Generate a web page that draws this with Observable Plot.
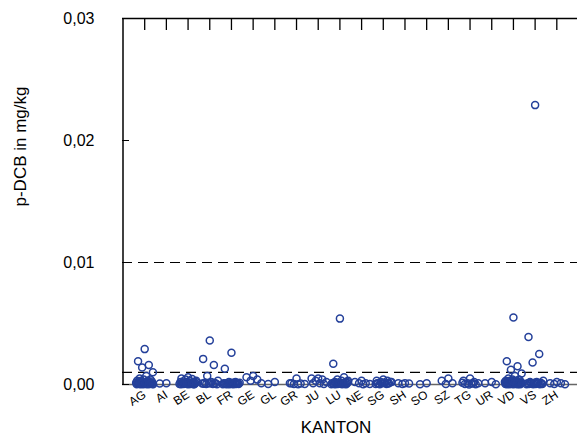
<!DOCTYPE html>
<html>
<head>
<meta charset="utf-8">
<script src="https://cdn.jsdelivr.net/npm/d3@7"></script>
<script src="https://cdn.jsdelivr.net/npm/@observablehq/plot@0.6"></script>
<style>
  html, body { margin: 0; padding: 0; background: #fff; }
  #chart svg { display: block; }
</style>
</head>
<body>
<div id="chart"></div>
<script>
// Categories
const kantons = ["AG","AI","BE","BL","FR","GE","GL","GR","JU","LU","NE","SG","SH","SO","SZ","TG","UR","VD","VS","ZH"];

const AG = [0.0029,0.0019,0.0016,0.0014,0.0010,0.0007,0.0005,0.0004,0.0004,0.0003,0.0003,0.0003,0.00025,0.0002,0.0002,0.0002,0.0002,0.00015,0.00015,0.0001,0.0001,0.0001,0.0001,0.0001,0.00008,0.00005,0.00005,0.00005,0.00005,0.00003,0.00003,0.00002,0.00002,0.0001,0.00015,0.0002,0.00005,0.00008,0.00003,0.0001,0.00012,0.00006];
const AI = [0.0001,0.00008];
const BE = [0.0006,0.0005,0.00045,0.0004,0.0003,0.0003,0.00025,0.0002,0.0002,0.0002,0.00015,0.00015,0.0001,0.0001,0.0001,0.0001,0.00008,0.00005,0.00005,0.00005,0.00003,0.00003,0.00002,0.0001,0.00015,0.0002,0.00005,0.00008,0.00003,0.00012];
const BL = [0.0036,0.0021,0.0016,0.0007,0.0003,0.0002,0.00015,0.0001,0.0001,0.00008,0.00005,0.00005,0.00003,0.0001,0.00006,0.00012];
const FR = [0.0026,0.0013,0.0002,0.0002,0.00015,0.00015,0.0001,0.0001,0.0001,0.0001,0.00008,0.00008,0.00005,0.00005,0.00005,0.00005,0.00003,0.00003,0.00002,0.00002,0.0001,0.00012,0.00006,0.00015];
const GE = [0.0007,0.0006,0.0004,0.0003,0.0001];
const GL = [0.0002,0.00005];
const GR = [0.0005,0.0001,0.00008,0.00005,0.00005,0.00003,0.0001];
const JU = [0.0005,0.0005,0.0004,0.0003,0.0002,0.0001,0.0001,0.00005];
const LU = [0.0054,0.0017,0.0006,0.0004,0.0003,0.0003,0.0002,0.0002,0.00015,0.0001,0.0001,0.0001,0.0001,0.00008,0.00005,0.00005,0.00005,0.00003,0.00003,0.00002,0.00002,0.0001,0.00012,0.00006,0.00015,0.0002];
const NE = [0.0003,0.0002,0.0001,0.0001,0.00005,0.00003];
const SG = [0.0004,0.0003,0.0003,0.0002,0.0002,0.00015,0.0001,0.0001,0.0001,0.00005,0.00005,0.00003,0.0002,0.00015,0.0001,0.00008];
const SH = [0.0001,0.0001,0.00008,0.00005];
const SO = [0.0001,0.00002];
const SZ = [0.0005,0.0003,0.0001,0.00005];
const TG = [0.0005,0.0003,0.0002,0.0001,0.0001,0.00008,0.00005,0.00003,0.0,0.00015,0.0001];
const UR = [0.0002,0.0001,0.00003];
const VD = [0.0055,0.0019,0.0015,0.0012,0.0009,0.0007,0.0005,0.0004,0.0004,0.0003,0.0003,0.0003,0.00025,0.00025,0.0002,0.0002,0.0002,0.0002,0.00015,0.00015,0.00015,0.0001,0.0001,0.0001,0.0001,0.0001,0.00008,0.00008,0.00005,0.00005,0.00005,0.00005,0.00003,0.00003,0.00003,0.00002,0.00002,0.0001,0.00012,0.00015,0.0002,0.00006,0.0003,0.00025,0.0001];
const VS = [0.0229,0.0039,0.0025,0.0018,0.0003,0.0002,0.0002,0.00015,0.0001,0.0001,0.0001,0.00008,0.00005,0.00005,0.00005,0.00003,0.00003,0.00002,0.0001,0.00012,0.00006,0.00015];
const ZH = [0.0002,0.0001,0.0001,0.00005,0.00003];

// Axis ticks and reference lines
const yTicks = [0, 0.01, 0.02, 0.03];
const refLines = [0.01, 0.001];

const series = {AG,AI,BE,BL,FR,GE,GL,GR,JU,LU,NE,SG,SH,SO,SZ,TG,UR,VD,VS,ZH};

// Build table: spread points of each Kanton horizontally (deterministic strip jitter)
const rows = [];
kantons.forEach((k, i) => {
  series[k].forEach((v, j) => {
    const off = ((j * 0.6180339887 + 0.5) % 1) - 0.5;
    rows.push({kanton: k, pos: i + 1 + off * 0.8, value: v});
  });
});

const font = "'Liberation Sans', Arial, Helvetica, sans-serif";
const blue = "#24409a";

const chart = Plot.plot({
  width: 577,
  height: 444,
  marginLeft: 122,
  marginRight: 0,
  marginTop: 18,
  marginBottom: 60,
  style: {fontFamily: font, background: "#fff", color: "#000", overflow: "visible"},
  x: {domain: [0, kantons.length + 1], range: [122.5, 578]},
  y: {domain: [0, 0.03]},
  marks: [
    // reference lines
    Plot.ruleY(refLines, {stroke: "#000", strokeWidth: 1.2, strokeDasharray: "10,6"}),
    // bottom line
    Plot.ruleY([0], {stroke: "#666", strokeWidth: 1.5}),
    // top line and left line
    Plot.ruleY([0.03], {stroke: "#000", strokeWidth: 1.5}),
    Plot.ruleX([0], {stroke: "#000", strokeWidth: 1.5}),
    // top inward ticks
    Plot.axisX({anchor: "top", ticks: d3.range(1, kantons.length + 1), tickSize: -11, tickFormat: () => "", label: null, stroke: "#000", strokeWidth: 1.3}),
    // bottom rotated labels
    Plot.axisX({anchor: "bottom", ticks: d3.range(1, kantons.length + 1), tickSize: 0, tickPadding: 9, tickRotate: -33,
      tickFormat: i => kantons[i - 1], fontSize: 12, label: null}),
    // y axis: inward ticks
    Plot.axisY({ticks: yTicks, tickSize: -7, tickFormat: () => "", label: null, stroke: "#000"}),
    // y axis labels
    Plot.axisY({ticks: yTicks, tickSize: 0, tickPadding: 28, tickFormat: d => d.toFixed(2).replace(".", ","), fontSize: 16, label: null}),
    // points
    Plot.dot(rows, {x: "pos", y: "value", r: 3.5, stroke: blue, strokeWidth: 1.5, fill: "none"}),
    // axis titles
    Plot.text(["p-DCB in mg/kg"], {frameAnchor: "left", dx: -102, dy: 5, rotate: -90, fontSize: 17, fill: "#000"}),
    Plot.text(["KANTON"], {frameAnchor: "bottom", dy: 48, dx: -14, fontSize: 17, fill: "#000"})
  ]
});
document.getElementById("chart").appendChild(chart);
</script>
</body>
</html>
